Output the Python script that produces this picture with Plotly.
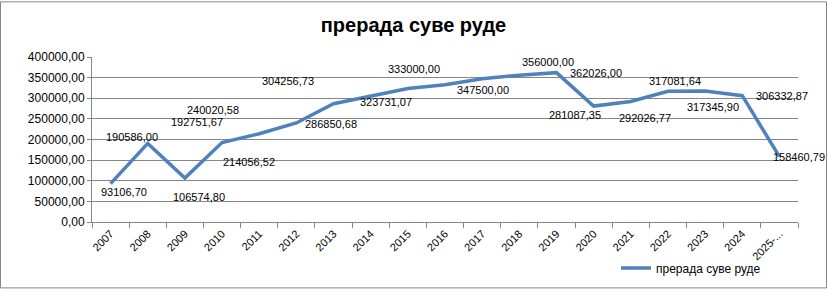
import plotly.graph_objects as go

years = ["2007", "2008", "2009", "2010", "2011", "2012", "2013", "2014", "2015", "2016",
         "2017", "2018", "2019", "2020", "2021", "2022", "2023", "2024", "2025-..."]
values = [93106.70, 190586.00, 106574.80, 192751.67, 214056.52, 240020.58, 286850.68,
          304256.73, 323731.07, 333000.00, 347500.00, 356000.00, 362026.00, 281087.35,
          292026.77, 317081.64, 317345.90, 306332.87, 158460.79]
series_name = "прерада суве руде"
title_text = "прерада суве руде"
y_ticks = [0, 50000, 100000, 150000, 200000, 250000, 300000, 350000, 400000]

# pixel offsets of the data labels (manually moved labels in the original)
label_dx = [13, -16, 14, -25, -10, -83, -3, -83, -22, -31, 1, 29, 40, -19, 14, 7, 8, 40, 20]
label_dy = [8, -6, 19, -20, 28, -13, 20, -15, 14, -16, 11, -13, 0, 9, 16, -10, 16, 0, 0]

def fmt(v):
    return f"{v:.2f}".replace(".", ",")

FONT = "Liberation Sans"

fig = go.Figure()
fig.add_trace(go.Scatter(
    x=list(range(len(years))), y=values, mode="lines", name=series_name,
    line=dict(color="#4F81BD", width=3.5),
))

for i, (v, dx, dy) in enumerate(zip(values, label_dx, label_dy)):
    fig.add_annotation(x=i, y=v, text=fmt(v), showarrow=False,
                       xshift=dx, yshift=-dy,
                       font=dict(family=FONT, size=11, color="#000000"))

W, H = 827, 294
L, R, T, B = 92, 29, 57, 68
pw, ph = W - L - R, H - T - B

fig.add_shape(type="rect", xref="paper", yref="paper",
              x0=(0.5 - L) / pw, x1=(W - 0.5 - L) / pw,
              y0=-(B - 0.5) / ph, y1=(ph + T - 0.5) / ph,
              line=dict(color="#868686", width=1), layer="below")

fig.update_layout(
    width=W, height=H,
    margin=dict(l=L, r=R, t=T, b=B),
    paper_bgcolor="white", plot_bgcolor="white",
    font=dict(family=FONT, size=12, color="#000000"),
    title=dict(text="<b>" + title_text + "</b>", x=0.5, xanchor="center",
               y=1 - 25 / H, yanchor="middle",
               font=dict(family=FONT, size=20, color="#000000")),
    showlegend=True,
    legend=dict(x=(616 - L) / pw, y=-(273 - (T + ph)) / ph, xanchor="left", yanchor="middle",
                font=dict(family=FONT, size=12, color="#000000"),
                bgcolor="rgba(0,0,0,0)", itemwidth=30),
    xaxis=dict(range=[-0.5, len(years) - 0.5], tickangle=-45,
               tickvals=list(range(len(years))), ticktext=years,
               showgrid=False, showline=True, linecolor="#868686", linewidth=1,
               ticks="", zeroline=False,
               tickfont=dict(family=FONT, size=11, color="#000000")),
    xaxis2=dict(overlaying="x", range=[-0.5, len(years) - 0.5], side="bottom",
                tickvals=[i - 0.5 for i in range(len(years) + 1)],
                ticktext=["" for _ in range(len(years) + 1)],
                ticks="outside", ticklen=5, tickcolor="#868686",
                showgrid=False, showline=False, zeroline=False),
    yaxis=dict(range=[0, 400000], tickvals=y_ticks, ticktext=[fmt(v) for v in y_ticks],
               showgrid=True, gridcolor="#868686", gridwidth=1,
               showline=True, linecolor="#868686", linewidth=1,
               ticks="outside", ticklen=4, tickcolor="#868686",
               tickfont=dict(family=FONT, size=12, color="#000000"), zeroline=False),
)
# invisible trace to display boundary tick marks on the secondary x axis
fig.add_trace(go.Scatter(x=[0], y=[0], xaxis="x2", mode="none", showlegend=False,
                         hoverinfo="skip"))

fig.write_html("out.html")
